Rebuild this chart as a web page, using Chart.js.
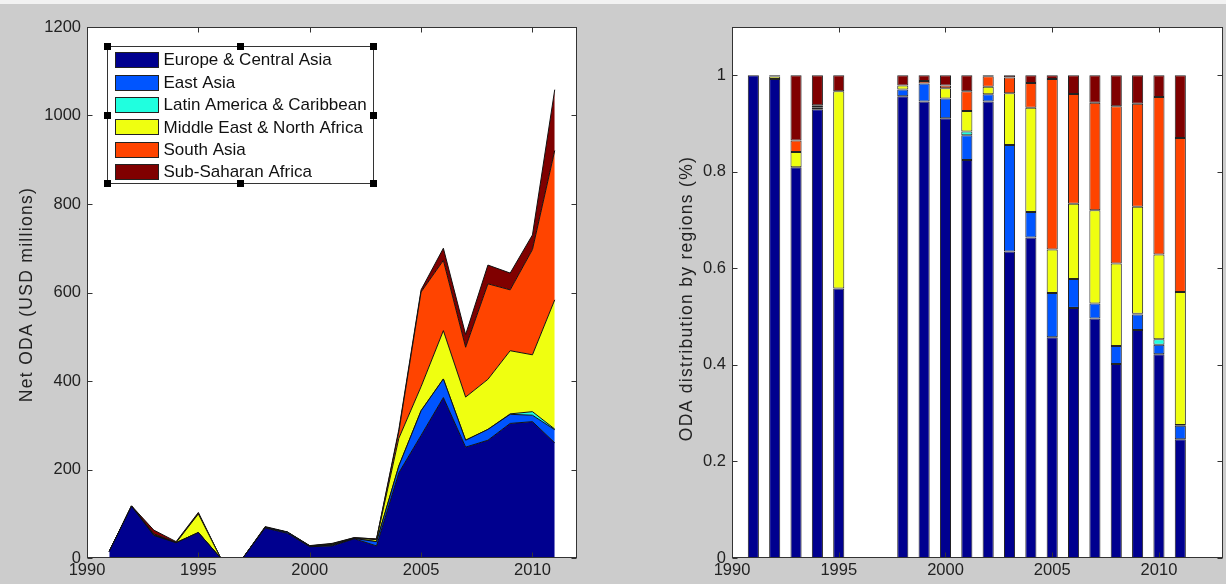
<!DOCTYPE html>
<html>
<head>
<meta charset="utf-8">
<script src="https://cdn.jsdelivr.net/npm/chart.js@4.4.1/dist/chart.umd.min.js"></script>
<style>
  html, body { margin: 0; padding: 0; background: #cccccc; }
  body { width: 1226px; height: 584px; position: relative; overflow: hidden; }
  #strip { position: absolute; left: 0; top: 0; width: 1226px; height: 4px; background: #f2f2f2; }
  canvas { position: absolute; top: 0; }
  #amounts { left: 0; }
  #shares { left: 613px; }
</style>
</head>
<body>
<div id="strip"></div>
<canvas id="amounts" width="613" height="584"></canvas>
<canvas id="shares" width="613" height="584"></canvas>
<script>
// Net ODA by recipient region, USD millions
const years = [1991, 1992, 1993, 1994, 1995, 1996, 1997, 1998, 1999, 2000, 2001,
               2002, 2003, 2004, 2005, 2006, 2007, 2008, 2009, 2010, 2011];

const regionNames = ['Europe & Central Asia', 'East Asia', 'Latin America & Caribbean',
                     'Middle East & North Africa', 'South Asia', 'Sub-Saharan Africa'];

const europeCentralAsia  = [15, 117, 51, 34.4, 57.5, 0, 0, 67.9, 55.8, 25.5, 27.2,
                            43.5, 27.3, 192.5, 277, 362.6, 250.5, 266.1, 304.1, 308.1, 260.3];
const eastAsia           = [0, 0, 0, 0.15, 0, 0, 0, 1.0, 2.2, 1.15, 1.7,
                            0.7, 9.5, 15.4, 55.8, 42, 15.7, 24.5, 20.6, 14.6, 29.6];
const latinAmerica       = [0, 0, 0, 0, 0, 0, 0, 0, 0, 0, 0.25,
                            0, 0, 0, 0, 0, 0, 0, 1, 8, 1.5];
const middleEastNAfrica  = [0, 0.6, 2, 0, 42.1, 0, 0, 0.6, 0, 0.6, 1.4,
                            0.7, 4.6, 62.6, 54.5, 109.2, 97.5, 113.2, 142.7, 128.5, 292];
const southAsia          = [0, 0, 1.5, 0.15, 0, 0, 0, 0, 0.3, 0.15, 1.35,
                            1.0, 1.4, 14.8, 213.9, 158.9, 112.6, 215.8, 137.6, 238, 337.5];
const subSaharanAfrica   = [0, 0.3, 8.5, 2.3, 3.4, 0, 0, 1.5, 0.7, 0.6, 1.1,
                            0.1, 0.2, 4.7, 4.8, 27.3, 28.7, 42.4, 37.9, 32.9, 137.5];

const regionValues = [europeCentralAsia, eastAsia, latinAmerica,
                      middleEastNAfrica, southAsia, subSaharanAfrica];
const regionColors = ['#00008f', '#0055ff', '#20ffdf', '#efff10', '#ff4400', '#800000'];

const yearTicks   = [1990, 1995, 2000, 2005, 2010];
const amountTicks = [0, 200, 400, 600, 800, 1000, 1200];
const shareTicks  = [0, 0.2, 0.4, 0.6, 0.8, 1];

const totals = years.map((_, k) => regionValues.reduce((s, v) => s + v[k], 0));

Chart.defaults.font.family = '"Liberation Sans", Arial, Helvetica, sans-serif';
Chart.defaults.color = '#222';

// white plot area, boxed frame and inward tick marks on all four sides
const plotFrame = {
  id: 'plotFrame',
  beforeDraw(chart) {
    const { ctx, chartArea: a } = chart;
    ctx.save();
    ctx.fillStyle = '#ffffff';
    ctx.fillRect(a.left, a.top, a.right - a.left, a.bottom - a.top);
    ctx.restore();
  },
  afterDatasetsDraw(chart) {
    const { ctx, chartArea: a, scales: { x, y } } = chart;
    const L = Math.round(a.left) + 0.5, R = Math.round(a.right) - 0.5;
    const T = Math.round(a.top) + 0.5, B = Math.round(a.bottom) - 0.5;
    const len = 5;
    ctx.save();
    ctx.strokeStyle = '#333';
    ctx.lineWidth = 1;
    ctx.strokeRect(L, T, R - L, B - T);
    ctx.beginPath();
    x.ticks.forEach(t => {
      const px = Math.round(x.getPixelForValue(t.value)) + 0.5;
      ctx.moveTo(px, B); ctx.lineTo(px, B - len);
      ctx.moveTo(px, T); ctx.lineTo(px, T + len);
    });
    y.ticks.forEach(t => {
      const py = Math.round(y.getPixelForValue(t.value)) + 0.5;
      ctx.moveTo(L, py); ctx.lineTo(L + len, py);
      ctx.moveTo(R, py); ctx.lineTo(R - len, py);
    });
    ctx.stroke();
    ctx.restore();
  }
};

// rotated y-axis caption, loosely tracked
const yCaption = {
  id: 'yCaption',
  afterDraw(chart, args, o) {
    const { ctx, chartArea: a } = chart;
    ctx.save();
    ctx.translate(o.x, (a.top + a.bottom) / 2 + o.dy);
    ctx.rotate(-Math.PI / 2);
    ctx.font = o.fontSize + 'px "Liberation Sans", Arial, sans-serif';
    if ('letterSpacing' in ctx) ctx.letterSpacing = o.spacing + 'px';
    ctx.fillStyle = '#222';
    ctx.textAlign = 'center';
    ctx.textBaseline = 'middle';
    ctx.fillText(o.text, 0, 0);
    ctx.restore();
  }
};

// boxed legend inside the plot, with selection handles on its frame
const boxLegend = {
  id: 'boxLegend',
  afterDraw(chart, args, o) {
    const { ctx, chartArea: a } = chart;
    const x0 = Math.round(a.left + o.dx) + 0.5, y0 = Math.round(a.top + o.dy) + 0.5;
    ctx.save();
    ctx.fillStyle = '#ffffff';
    ctx.fillRect(x0, y0, o.width, o.height);
    ctx.strokeStyle = '#333';
    ctx.lineWidth = 1;
    ctx.strokeRect(x0, y0, o.width, o.height);
    ctx.font = o.fontSize + 'px "Liberation Sans", Arial, sans-serif';
    ctx.textBaseline = 'middle';
    ctx.textAlign = 'left';
    chart.data.datasets.forEach((ds, i) => {
      const cy = y0 + o.firstRow + i * o.rowGap;
      const sy = Math.round(cy - o.swatchH / 2) + 0.5;
      ctx.fillStyle = ds.backgroundColor;
      ctx.fillRect(x0 + o.swatchX, sy, o.swatchW, o.swatchH);
      ctx.strokeStyle = '#222';
      ctx.strokeRect(x0 + o.swatchX, sy, o.swatchW, o.swatchH);
      ctx.fillStyle = '#111';
      ctx.fillText(ds.label, x0 + o.textX, cy + 1);
    });
    ctx.fillStyle = '#000';
    const hs = o.handle;
    const xs = [x0, x0 + o.width / 2, x0 + o.width];
    const ys = [y0, y0 + o.height / 2, y0 + o.height];
    xs.forEach((hx, i) => ys.forEach((hy, j) => {
      if (i === 1 && j === 1) return;
      ctx.fillRect(Math.round(hx - hs / 2), Math.round(hy - hs / 2), hs, hs);
    }));
    ctx.restore();
  }
};

function fixedTicks(list) {
  return scale => { scale.ticks = list.map(v => ({ value: v })); };
}

const tickFont = { size: 16.5 };

// stacked area chart of amounts
new Chart(document.getElementById('amounts'), {
  type: 'line',
  data: {
    datasets: regionNames.map((name, i) => ({
      label: name,
      data: years.map((yr, k) => ({ x: yr, y: regionValues[i][k] })),
      backgroundColor: regionColors[i],
      borderColor: '#111',
      borderWidth: 1,
      pointRadius: 0,
      tension: 0,
      fill: i === 0 ? 'origin' : '-1'
    }))
  },
  options: {
    responsive: false,
    animation: false,
    events: [],
    layout: { padding: { left: 0, top: 27, right: 36, bottom: 0 } },
    plugins: {
      legend: { display: false },
      tooltip: { enabled: false },
      yCaption: { text: 'Net ODA (USD millions)', x: 27, dy: 2, fontSize: 17.5, spacing: 1.3 },
      boxLegend: {
        dx: 20, dy: 19, width: 266, height: 137,
        firstRow: 13.2, rowGap: 22.4,
        swatchX: 8, swatchW: 43, swatchH: 15, textX: 56,
        fontSize: 17, handle: 7
      }
    },
    scales: {
      x: {
        type: 'linear', min: 1990, max: 2012,
        afterBuildTicks: fixedTicks(yearTicks),
        afterFit: s => { s.height = 26; },
        grid: { display: false, drawTicks: false },
        border: { display: false },
        ticks: { padding: 3, font: tickFont, maxRotation: 0, autoSkip: false, callback: v => String(v) }
      },
      y: {
        type: 'linear', stacked: true, min: 0, max: 1200,
        afterBuildTicks: fixedTicks(amountTicks),
        afterFit: s => { s.width = 87; },
        grid: { display: false, drawTicks: false },
        border: { display: false },
        ticks: { padding: 6, font: tickFont, autoSkip: false, callback: v => String(v) }
      }
    }
  },
  plugins: [plotFrame, yCaption, boxLegend]
});

// stacked bars of each region's share of the yearly total
new Chart(document.getElementById('shares'), {
  type: 'bar',
  data: {
    datasets: regionNames.map((name, i) => ({
      label: name,
      data: years.map((yr, k) => ({ x: yr, y: totals[k] > 0 ? regionValues[i][k] / totals[k] : null })),
      backgroundColor: regionColors[i],
      borderColor: '#222',
      borderWidth: 1,
      borderSkipped: false,
      barPercentage: 0.52,
      categoryPercentage: 1
    }))
  },
  options: {
    responsive: false,
    animation: false,
    events: [],
    layout: { padding: { left: 0, top: 27, right: 3, bottom: 0 } },
    plugins: {
      legend: { display: false },
      tooltip: { enabled: false },
      yCaption: { text: 'ODA distribution by regions (%)', x: 74, dy: 6, fontSize: 17.5, spacing: 1.3 }
    },
    scales: {
      x: {
        type: 'linear', stacked: true, offset: false, min: 1990, max: 2013,
        afterBuildTicks: fixedTicks(yearTicks),
        afterFit: s => { s.height = 26; },
        grid: { display: false, drawTicks: false, offset: false },
        border: { display: false },
        ticks: { padding: 3, font: tickFont, maxRotation: 0, autoSkip: false, callback: v => String(v) }
      },
      y: {
        type: 'linear', stacked: true, min: 0, max: 1.1,
        afterBuildTicks: fixedTicks(shareTicks),
        afterFit: s => { s.width = 119; },
        grid: { display: false, drawTicks: false },
        border: { display: false },
        ticks: { padding: 6, font: tickFont, autoSkip: false, callback: v => String(v) }
      }
    }
  },
  plugins: [plotFrame, yCaption]
});
</script>
</body>
</html>
